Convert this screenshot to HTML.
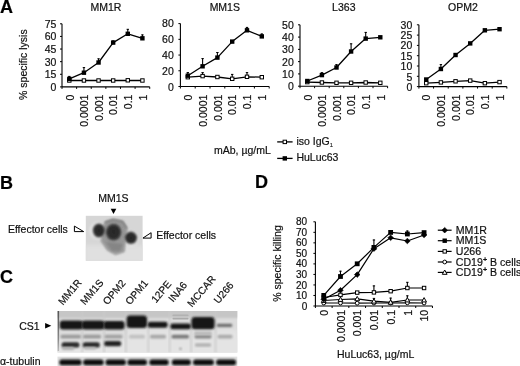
<!DOCTYPE html>
<html><head><meta charset="utf-8"><style>
html,body{margin:0;padding:0;background:#fff;width:520px;height:366px;overflow:hidden}
svg{display:block;font-family:"Liberation Sans",sans-serif;filter:grayscale(1) blur(0.35px)}
</style></head><body>
<svg width="520" height="366" viewBox="0 0 520 366" font-family='"Liberation Sans", sans-serif' fill="#111">
<defs>
<filter id="b1" x="-50%" y="-50%" width="200%" height="200%"><feGaussianBlur stdDeviation="1.2"/></filter>
<filter id="b2" x="-50%" y="-50%" width="200%" height="200%"><feGaussianBlur stdDeviation="0.8"/></filter>
<filter id="b4" x="-50%" y="-50%" width="200%" height="200%"><feGaussianBlur stdDeviation="0.5"/></filter>
<filter id="b5" x="-50%" y="-50%" width="200%" height="200%"><feGaussianBlur stdDeviation="0.9"/></filter>
<filter id="b3" x="-50%" y="-50%" width="200%" height="200%"><feGaussianBlur stdDeviation="2"/></filter>
</defs>
<style>text{stroke:#111;stroke-width:0.2px}</style>
<rect width="520" height="366" fill="#fff"/>
<text x="0" y="12.8" text-anchor="start" font-size="18" font-weight="bold" fill="#000">A</text>
<text x="0" y="188.5" text-anchor="start" font-size="18" font-weight="bold" fill="#000">B</text>
<text x="0" y="283.2" text-anchor="start" font-size="18" font-weight="bold" fill="#000">C</text>
<text x="255" y="188.2" text-anchor="start" font-size="18" font-weight="bold" fill="#000">D</text>
<text transform="translate(27.3,64.6) rotate(-90)" text-anchor="middle" font-size="10.5">% specific lysis</text>
<text x="105.86" y="11.2" text-anchor="middle" font-size="10.5" font-weight="normal" >MM1R</text>
<line x1="62.0" y1="23.8" x2="62.0" y2="86.9" stroke="#000" stroke-width="1.1"/>
<line x1="62.0" y1="86.9" x2="149.72" y2="86.9" stroke="#000" stroke-width="1.1"/>
<line x1="60.0" y1="86.90" x2="62.0" y2="86.90" stroke="#000" stroke-width="1"/>
<text x="56.4" y="91.23" text-anchor="end" font-size="10.5" font-weight="normal" >0</text>
<line x1="60.0" y1="74.28" x2="62.0" y2="74.28" stroke="#000" stroke-width="1"/>
<text x="56.4" y="78.49" text-anchor="end" font-size="10.5" font-weight="normal" >15</text>
<line x1="60.0" y1="61.66" x2="62.0" y2="61.66" stroke="#000" stroke-width="1"/>
<text x="56.4" y="65.75" text-anchor="end" font-size="10.5" font-weight="normal" >30</text>
<line x1="60.0" y1="49.04" x2="62.0" y2="49.04" stroke="#000" stroke-width="1"/>
<text x="56.4" y="53.01" text-anchor="end" font-size="10.5" font-weight="normal" >45</text>
<line x1="60.0" y1="36.42" x2="62.0" y2="36.42" stroke="#000" stroke-width="1"/>
<text x="56.4" y="40.27" text-anchor="end" font-size="10.5" font-weight="normal" >60</text>
<line x1="60.0" y1="23.80" x2="62.0" y2="23.80" stroke="#000" stroke-width="1"/>
<text x="56.4" y="27.53" text-anchor="end" font-size="10.5" font-weight="normal" >75</text>
<line x1="62.00" y1="86.9" x2="62.00" y2="88.9" stroke="#000" stroke-width="1"/>
<line x1="76.62" y1="86.9" x2="76.62" y2="88.9" stroke="#000" stroke-width="1"/>
<line x1="91.24" y1="86.9" x2="91.24" y2="88.9" stroke="#000" stroke-width="1"/>
<line x1="105.86" y1="86.9" x2="105.86" y2="88.9" stroke="#000" stroke-width="1"/>
<line x1="120.48" y1="86.9" x2="120.48" y2="88.9" stroke="#000" stroke-width="1"/>
<line x1="135.10" y1="86.9" x2="135.10" y2="88.9" stroke="#000" stroke-width="1"/>
<line x1="149.72" y1="86.9" x2="149.72" y2="88.9" stroke="#000" stroke-width="1"/>
<text transform="translate(73.51,94.6) rotate(-90)" text-anchor="end" font-size="10.5">0</text>
<text transform="translate(88.13,94.6) rotate(-90)" text-anchor="end" font-size="10.5">0.0001</text>
<text transform="translate(102.75,94.6) rotate(-90)" text-anchor="end" font-size="10.5">0.001</text>
<text transform="translate(117.37,94.6) rotate(-90)" text-anchor="end" font-size="10.5">0.01</text>
<text transform="translate(131.99,94.6) rotate(-90)" text-anchor="end" font-size="10.5">0.1</text>
<text transform="translate(146.61,94.6) rotate(-90)" text-anchor="end" font-size="10.5">1</text>
<polyline points="69.31,80.50 83.93,80.50 98.55,80.50 113.17,80.50 127.79,80.30 142.41,80.50" fill="none" stroke="#000" stroke-width="1.3" stroke-linejoin="round"/>
<polyline points="69.31,78.90 83.93,72.70 98.55,62.50 113.17,42.60 127.79,33.80 142.41,38.30" fill="none" stroke="#000" stroke-width="1.3" stroke-linejoin="round"/>
<line x1="69.31" y1="78.9" x2="69.31" y2="76" stroke="#000" stroke-width="1.1"/>
<line x1="68.11" y1="76.4" x2="70.51" y2="76.4" stroke="#000" stroke-width="1"/>
<line x1="83.93" y1="72.7" x2="83.93" y2="67.2" stroke="#000" stroke-width="1.1"/>
<line x1="82.73" y1="67.60000000000001" x2="85.13000000000001" y2="67.60000000000001" stroke="#000" stroke-width="1"/>
<line x1="98.55" y1="62.5" x2="98.55" y2="58.4" stroke="#000" stroke-width="1.1"/>
<line x1="97.35" y1="58.8" x2="99.75" y2="58.8" stroke="#000" stroke-width="1"/>
<line x1="113.16999999999999" y1="42.6" x2="113.16999999999999" y2="40.6" stroke="#000" stroke-width="1.1"/>
<line x1="111.96999999999998" y1="41.0" x2="114.36999999999999" y2="41.0" stroke="#000" stroke-width="1"/>
<line x1="127.78999999999999" y1="33.8" x2="127.78999999999999" y2="28.9" stroke="#000" stroke-width="1.1"/>
<line x1="126.58999999999999" y1="29.299999999999997" x2="128.98999999999998" y2="29.299999999999997" stroke="#000" stroke-width="1"/>
<line x1="142.41" y1="38.3" x2="142.41" y2="34.5" stroke="#000" stroke-width="1.1"/>
<line x1="141.21" y1="34.9" x2="143.60999999999999" y2="34.9" stroke="#000" stroke-width="1"/>
<rect x="67.61" y="78.80" width="3.4000000000000004" height="3.4000000000000004" fill="#fff" stroke="#000" stroke-width="1"/>
<rect x="82.23" y="78.80" width="3.4000000000000004" height="3.4000000000000004" fill="#fff" stroke="#000" stroke-width="1"/>
<rect x="96.85" y="78.80" width="3.4000000000000004" height="3.4000000000000004" fill="#fff" stroke="#000" stroke-width="1"/>
<rect x="111.47" y="78.80" width="3.4000000000000004" height="3.4000000000000004" fill="#fff" stroke="#000" stroke-width="1"/>
<rect x="126.09" y="78.60" width="3.4000000000000004" height="3.4000000000000004" fill="#fff" stroke="#000" stroke-width="1"/>
<rect x="140.71" y="78.80" width="3.4000000000000004" height="3.4000000000000004" fill="#fff" stroke="#000" stroke-width="1"/>
<rect x="67.11" y="76.70" width="4.4" height="4.4" fill="#000"/>
<rect x="81.73" y="70.50" width="4.4" height="4.4" fill="#000"/>
<rect x="96.35" y="60.30" width="4.4" height="4.4" fill="#000"/>
<rect x="110.97" y="40.40" width="4.4" height="4.4" fill="#000"/>
<rect x="125.59" y="31.60" width="4.4" height="4.4" fill="#000"/>
<rect x="140.21" y="36.10" width="4.4" height="4.4" fill="#000"/>
<text x="224.80" y="11.2" text-anchor="middle" font-size="10.5" font-weight="normal" >MM1S</text>
<line x1="180.4" y1="23.6" x2="180.4" y2="86.5" stroke="#000" stroke-width="1.1"/>
<line x1="180.4" y1="86.5" x2="269.20" y2="86.5" stroke="#000" stroke-width="1.1"/>
<line x1="178.4" y1="86.50" x2="180.4" y2="86.50" stroke="#000" stroke-width="1"/>
<text x="173.8" y="91.33" text-anchor="end" font-size="10.5" font-weight="normal" >0</text>
<line x1="178.4" y1="70.78" x2="180.4" y2="70.78" stroke="#000" stroke-width="1"/>
<text x="173.8" y="75.35" text-anchor="end" font-size="10.5" font-weight="normal" >20</text>
<line x1="178.4" y1="55.05" x2="180.4" y2="55.05" stroke="#000" stroke-width="1"/>
<text x="173.8" y="59.38" text-anchor="end" font-size="10.5" font-weight="normal" >40</text>
<line x1="178.4" y1="39.33" x2="180.4" y2="39.33" stroke="#000" stroke-width="1"/>
<text x="173.8" y="43.40" text-anchor="end" font-size="10.5" font-weight="normal" >60</text>
<line x1="178.4" y1="23.60" x2="180.4" y2="23.60" stroke="#000" stroke-width="1"/>
<text x="173.8" y="27.43" text-anchor="end" font-size="10.5" font-weight="normal" >80</text>
<line x1="180.40" y1="86.5" x2="180.40" y2="88.5" stroke="#000" stroke-width="1"/>
<line x1="195.20" y1="86.5" x2="195.20" y2="88.5" stroke="#000" stroke-width="1"/>
<line x1="210.00" y1="86.5" x2="210.00" y2="88.5" stroke="#000" stroke-width="1"/>
<line x1="224.80" y1="86.5" x2="224.80" y2="88.5" stroke="#000" stroke-width="1"/>
<line x1="239.60" y1="86.5" x2="239.60" y2="88.5" stroke="#000" stroke-width="1"/>
<line x1="254.40" y1="86.5" x2="254.40" y2="88.5" stroke="#000" stroke-width="1"/>
<line x1="269.20" y1="86.5" x2="269.20" y2="88.5" stroke="#000" stroke-width="1"/>
<text transform="translate(192.00,94.6) rotate(-90)" text-anchor="end" font-size="10.5">0</text>
<text transform="translate(206.80,94.6) rotate(-90)" text-anchor="end" font-size="10.5">0.0001</text>
<text transform="translate(221.60,94.6) rotate(-90)" text-anchor="end" font-size="10.5">0.001</text>
<text transform="translate(236.40,94.6) rotate(-90)" text-anchor="end" font-size="10.5">0.01</text>
<text transform="translate(251.20,94.6) rotate(-90)" text-anchor="end" font-size="10.5">0.1</text>
<text transform="translate(266.00,94.6) rotate(-90)" text-anchor="end" font-size="10.5">1</text>
<polyline points="187.80,77.20 202.60,76.10 217.40,77.00 232.20,78.80 247.00,76.80 261.80,77.20" fill="none" stroke="#000" stroke-width="1.3" stroke-linejoin="round"/>
<polyline points="187.80,75.70 202.60,66.30 217.40,57.60 232.20,41.60 247.00,30.30 261.80,36.40" fill="none" stroke="#000" stroke-width="1.3" stroke-linejoin="round"/>
<line x1="202.60000000000002" y1="76.1" x2="202.60000000000002" y2="72.2" stroke="#000" stroke-width="1.1"/>
<line x1="201.40000000000003" y1="72.60000000000001" x2="203.8" y2="72.60000000000001" stroke="#000" stroke-width="1"/>
<line x1="232.20000000000002" y1="78.8" x2="232.20000000000002" y2="74" stroke="#000" stroke-width="1.1"/>
<line x1="231.00000000000003" y1="74.4" x2="233.4" y2="74.4" stroke="#000" stroke-width="1"/>
<line x1="247.0" y1="76.8" x2="247.0" y2="72.2" stroke="#000" stroke-width="1.1"/>
<line x1="245.8" y1="72.60000000000001" x2="248.2" y2="72.60000000000001" stroke="#000" stroke-width="1"/>
<line x1="187.8" y1="75.7" x2="187.8" y2="72.2" stroke="#000" stroke-width="1.1"/>
<line x1="186.60000000000002" y1="72.60000000000001" x2="189.0" y2="72.60000000000001" stroke="#000" stroke-width="1"/>
<line x1="202.60000000000002" y1="66.3" x2="202.60000000000002" y2="58.2" stroke="#000" stroke-width="1.1"/>
<line x1="201.40000000000003" y1="58.6" x2="203.8" y2="58.6" stroke="#000" stroke-width="1"/>
<line x1="217.4" y1="57.6" x2="217.4" y2="52.1" stroke="#000" stroke-width="1.1"/>
<line x1="216.20000000000002" y1="52.5" x2="218.6" y2="52.5" stroke="#000" stroke-width="1"/>
<line x1="232.20000000000002" y1="41.6" x2="232.20000000000002" y2="40.1" stroke="#000" stroke-width="1.1"/>
<line x1="231.00000000000003" y1="40.5" x2="233.4" y2="40.5" stroke="#000" stroke-width="1"/>
<line x1="247.0" y1="30.3" x2="247.0" y2="27" stroke="#000" stroke-width="1.1"/>
<line x1="245.8" y1="27.4" x2="248.2" y2="27.4" stroke="#000" stroke-width="1"/>
<line x1="261.8" y1="36.4" x2="261.8" y2="33.6" stroke="#000" stroke-width="1.1"/>
<line x1="260.6" y1="34.0" x2="263.0" y2="34.0" stroke="#000" stroke-width="1"/>
<rect x="186.10" y="75.50" width="3.4000000000000004" height="3.4000000000000004" fill="#fff" stroke="#000" stroke-width="1"/>
<rect x="200.90" y="74.40" width="3.4000000000000004" height="3.4000000000000004" fill="#fff" stroke="#000" stroke-width="1"/>
<rect x="215.70" y="75.30" width="3.4000000000000004" height="3.4000000000000004" fill="#fff" stroke="#000" stroke-width="1"/>
<rect x="230.50" y="77.10" width="3.4000000000000004" height="3.4000000000000004" fill="#fff" stroke="#000" stroke-width="1"/>
<rect x="245.30" y="75.10" width="3.4000000000000004" height="3.4000000000000004" fill="#fff" stroke="#000" stroke-width="1"/>
<rect x="260.10" y="75.50" width="3.4000000000000004" height="3.4000000000000004" fill="#fff" stroke="#000" stroke-width="1"/>
<rect x="185.60" y="73.50" width="4.4" height="4.4" fill="#000"/>
<rect x="200.40" y="64.10" width="4.4" height="4.4" fill="#000"/>
<rect x="215.20" y="55.40" width="4.4" height="4.4" fill="#000"/>
<rect x="230.00" y="39.40" width="4.4" height="4.4" fill="#000"/>
<rect x="244.80" y="28.10" width="4.4" height="4.4" fill="#000"/>
<rect x="259.60" y="34.20" width="4.4" height="4.4" fill="#000"/>
<text x="343.80" y="11.2" text-anchor="middle" font-size="10.5" font-weight="normal" >L363</text>
<line x1="300.0" y1="24.8" x2="300.0" y2="86.2" stroke="#000" stroke-width="1.1"/>
<line x1="300.0" y1="86.2" x2="387.60" y2="86.2" stroke="#000" stroke-width="1.1"/>
<line x1="298.0" y1="86.20" x2="300.0" y2="86.20" stroke="#000" stroke-width="1"/>
<text x="293.8" y="90.33" text-anchor="end" font-size="10.5" font-weight="normal" >0</text>
<line x1="298.0" y1="73.92" x2="300.0" y2="73.92" stroke="#000" stroke-width="1"/>
<text x="293.8" y="77.97" text-anchor="end" font-size="10.5" font-weight="normal" >10</text>
<line x1="298.0" y1="61.64" x2="300.0" y2="61.64" stroke="#000" stroke-width="1"/>
<text x="293.8" y="65.61" text-anchor="end" font-size="10.5" font-weight="normal" >20</text>
<line x1="298.0" y1="49.36" x2="300.0" y2="49.36" stroke="#000" stroke-width="1"/>
<text x="293.8" y="53.25" text-anchor="end" font-size="10.5" font-weight="normal" >30</text>
<line x1="298.0" y1="37.08" x2="300.0" y2="37.08" stroke="#000" stroke-width="1"/>
<text x="293.8" y="40.89" text-anchor="end" font-size="10.5" font-weight="normal" >40</text>
<line x1="298.0" y1="24.80" x2="300.0" y2="24.80" stroke="#000" stroke-width="1"/>
<text x="293.8" y="28.53" text-anchor="end" font-size="10.5" font-weight="normal" >50</text>
<line x1="300.00" y1="86.2" x2="300.00" y2="88.2" stroke="#000" stroke-width="1"/>
<line x1="314.60" y1="86.2" x2="314.60" y2="88.2" stroke="#000" stroke-width="1"/>
<line x1="329.20" y1="86.2" x2="329.20" y2="88.2" stroke="#000" stroke-width="1"/>
<line x1="343.80" y1="86.2" x2="343.80" y2="88.2" stroke="#000" stroke-width="1"/>
<line x1="358.40" y1="86.2" x2="358.40" y2="88.2" stroke="#000" stroke-width="1"/>
<line x1="373.00" y1="86.2" x2="373.00" y2="88.2" stroke="#000" stroke-width="1"/>
<line x1="387.60" y1="86.2" x2="387.60" y2="88.2" stroke="#000" stroke-width="1"/>
<text transform="translate(311.50,94.6) rotate(-90)" text-anchor="end" font-size="10.5">0</text>
<text transform="translate(326.10,94.6) rotate(-90)" text-anchor="end" font-size="10.5">0.0001</text>
<text transform="translate(340.70,94.6) rotate(-90)" text-anchor="end" font-size="10.5">0.001</text>
<text transform="translate(355.30,94.6) rotate(-90)" text-anchor="end" font-size="10.5">0.01</text>
<text transform="translate(369.90,94.6) rotate(-90)" text-anchor="end" font-size="10.5">0.1</text>
<text transform="translate(384.50,94.6) rotate(-90)" text-anchor="end" font-size="10.5">1</text>
<polyline points="307.30,82.10 321.90,82.50 336.50,82.80 351.10,82.80 365.70,82.50 380.30,82.80" fill="none" stroke="#000" stroke-width="1.3" stroke-linejoin="round"/>
<polyline points="307.30,81.00 321.90,75.10 336.50,67.50 351.10,51.50 365.70,38.60 380.30,37.30" fill="none" stroke="#000" stroke-width="1.3" stroke-linejoin="round"/>
<line x1="321.9" y1="75.1" x2="321.9" y2="72.3" stroke="#000" stroke-width="1.1"/>
<line x1="320.7" y1="72.7" x2="323.09999999999997" y2="72.7" stroke="#000" stroke-width="1"/>
<line x1="336.5" y1="67.5" x2="336.5" y2="64.2" stroke="#000" stroke-width="1.1"/>
<line x1="335.3" y1="64.60000000000001" x2="337.7" y2="64.60000000000001" stroke="#000" stroke-width="1"/>
<line x1="351.1" y1="51.5" x2="351.1" y2="43.4" stroke="#000" stroke-width="1.1"/>
<line x1="349.90000000000003" y1="43.8" x2="352.3" y2="43.8" stroke="#000" stroke-width="1"/>
<line x1="365.7" y1="38.6" x2="365.7" y2="32" stroke="#000" stroke-width="1.1"/>
<line x1="364.5" y1="32.4" x2="366.9" y2="32.4" stroke="#000" stroke-width="1"/>
<rect x="305.60" y="80.40" width="3.4000000000000004" height="3.4000000000000004" fill="#fff" stroke="#000" stroke-width="1"/>
<rect x="320.20" y="80.80" width="3.4000000000000004" height="3.4000000000000004" fill="#fff" stroke="#000" stroke-width="1"/>
<rect x="334.80" y="81.10" width="3.4000000000000004" height="3.4000000000000004" fill="#fff" stroke="#000" stroke-width="1"/>
<rect x="349.40" y="81.10" width="3.4000000000000004" height="3.4000000000000004" fill="#fff" stroke="#000" stroke-width="1"/>
<rect x="364.00" y="80.80" width="3.4000000000000004" height="3.4000000000000004" fill="#fff" stroke="#000" stroke-width="1"/>
<rect x="378.60" y="81.10" width="3.4000000000000004" height="3.4000000000000004" fill="#fff" stroke="#000" stroke-width="1"/>
<rect x="305.10" y="78.80" width="4.4" height="4.4" fill="#000"/>
<rect x="319.70" y="72.90" width="4.4" height="4.4" fill="#000"/>
<rect x="334.30" y="65.30" width="4.4" height="4.4" fill="#000"/>
<rect x="348.90" y="49.30" width="4.4" height="4.4" fill="#000"/>
<rect x="363.50" y="36.40" width="4.4" height="4.4" fill="#000"/>
<rect x="378.10" y="35.10" width="4.4" height="4.4" fill="#000"/>
<text x="462.88" y="11.2" text-anchor="middle" font-size="10.5" font-weight="normal" >OPM2</text>
<line x1="418.9" y1="24.8" x2="418.9" y2="86.6" stroke="#000" stroke-width="1.1"/>
<line x1="418.9" y1="86.6" x2="506.86" y2="86.6" stroke="#000" stroke-width="1.1"/>
<line x1="416.9" y1="86.60" x2="418.9" y2="86.60" stroke="#000" stroke-width="1"/>
<text x="412.3" y="90.93" text-anchor="end" font-size="10.5" font-weight="normal" >0</text>
<line x1="416.9" y1="76.30" x2="418.9" y2="76.30" stroke="#000" stroke-width="1"/>
<text x="412.3" y="80.54" text-anchor="end" font-size="10.5" font-weight="normal" >5</text>
<line x1="416.9" y1="66.00" x2="418.9" y2="66.00" stroke="#000" stroke-width="1"/>
<text x="412.3" y="70.16" text-anchor="end" font-size="10.5" font-weight="normal" >10</text>
<line x1="416.9" y1="55.70" x2="418.9" y2="55.70" stroke="#000" stroke-width="1"/>
<text x="412.3" y="59.78" text-anchor="end" font-size="10.5" font-weight="normal" >15</text>
<line x1="416.9" y1="45.40" x2="418.9" y2="45.40" stroke="#000" stroke-width="1"/>
<text x="412.3" y="49.39" text-anchor="end" font-size="10.5" font-weight="normal" >20</text>
<line x1="416.9" y1="35.10" x2="418.9" y2="35.10" stroke="#000" stroke-width="1"/>
<text x="412.3" y="39.01" text-anchor="end" font-size="10.5" font-weight="normal" >25</text>
<line x1="416.9" y1="24.80" x2="418.9" y2="24.80" stroke="#000" stroke-width="1"/>
<text x="412.3" y="28.63" text-anchor="end" font-size="10.5" font-weight="normal" >30</text>
<line x1="418.90" y1="86.6" x2="418.90" y2="88.6" stroke="#000" stroke-width="1"/>
<line x1="433.56" y1="86.6" x2="433.56" y2="88.6" stroke="#000" stroke-width="1"/>
<line x1="448.22" y1="86.6" x2="448.22" y2="88.6" stroke="#000" stroke-width="1"/>
<line x1="462.88" y1="86.6" x2="462.88" y2="88.6" stroke="#000" stroke-width="1"/>
<line x1="477.54" y1="86.6" x2="477.54" y2="88.6" stroke="#000" stroke-width="1"/>
<line x1="492.20" y1="86.6" x2="492.20" y2="88.6" stroke="#000" stroke-width="1"/>
<line x1="506.86" y1="86.6" x2="506.86" y2="88.6" stroke="#000" stroke-width="1"/>
<text transform="translate(430.43,94.6) rotate(-90)" text-anchor="end" font-size="10.5">0</text>
<text transform="translate(445.09,94.6) rotate(-90)" text-anchor="end" font-size="10.5">0.0001</text>
<text transform="translate(459.75,94.6) rotate(-90)" text-anchor="end" font-size="10.5">0.001</text>
<text transform="translate(474.41,94.6) rotate(-90)" text-anchor="end" font-size="10.5">0.01</text>
<text transform="translate(489.07,94.6) rotate(-90)" text-anchor="end" font-size="10.5">0.1</text>
<text transform="translate(503.73,94.6) rotate(-90)" text-anchor="end" font-size="10.5">1</text>
<polyline points="426.23,83.20 440.89,82.40 455.55,81.30 470.21,80.60 484.87,83.20 499.53,82.10" fill="none" stroke="#000" stroke-width="1.3" stroke-linejoin="round"/>
<polyline points="426.23,79.50 440.89,69.00 455.55,55.00 470.21,43.40 484.87,30.30 499.53,29.20" fill="none" stroke="#000" stroke-width="1.3" stroke-linejoin="round"/>
<line x1="440.89" y1="69" x2="440.89" y2="64.2" stroke="#000" stroke-width="1.1"/>
<line x1="439.69" y1="64.60000000000001" x2="442.09" y2="64.60000000000001" stroke="#000" stroke-width="1"/>
<rect x="424.53" y="81.50" width="3.4000000000000004" height="3.4000000000000004" fill="#fff" stroke="#000" stroke-width="1"/>
<rect x="439.19" y="80.70" width="3.4000000000000004" height="3.4000000000000004" fill="#fff" stroke="#000" stroke-width="1"/>
<rect x="453.85" y="79.60" width="3.4000000000000004" height="3.4000000000000004" fill="#fff" stroke="#000" stroke-width="1"/>
<rect x="468.51" y="78.90" width="3.4000000000000004" height="3.4000000000000004" fill="#fff" stroke="#000" stroke-width="1"/>
<rect x="483.17" y="81.50" width="3.4000000000000004" height="3.4000000000000004" fill="#fff" stroke="#000" stroke-width="1"/>
<rect x="497.83" y="80.40" width="3.4000000000000004" height="3.4000000000000004" fill="#fff" stroke="#000" stroke-width="1"/>
<rect x="424.03" y="77.30" width="4.4" height="4.4" fill="#000"/>
<rect x="438.69" y="66.80" width="4.4" height="4.4" fill="#000"/>
<rect x="453.35" y="52.80" width="4.4" height="4.4" fill="#000"/>
<rect x="468.01" y="41.20" width="4.4" height="4.4" fill="#000"/>
<rect x="482.67" y="28.10" width="4.4" height="4.4" fill="#000"/>
<rect x="497.33" y="27.00" width="4.4" height="4.4" fill="#000"/>
<text x="214.0" y="153.8" text-anchor="start" font-size="10.5" font-weight="normal" >mAb, &#181;g/mL</text>
<line x1="277.2" y1="141.9" x2="292.6" y2="141.9" stroke="#000" stroke-width="1.3"/>
<rect x="283.10" y="140.20" width="3.4000000000000004" height="3.4000000000000004" fill="#fff" stroke="#000" stroke-width="1"/>
<text x="296.4" y="144.6" text-anchor="start" font-size="10.5" font-weight="normal" >iso IgG<tspan font-size="5.8" dy="2.8" stroke-width="0.1">1</tspan></text>
<line x1="277.2" y1="158.4" x2="292.6" y2="158.4" stroke="#000" stroke-width="1.3"/>
<rect x="282.60" y="156.20" width="4.4" height="4.4" fill="#000"/>
<text x="296.4" y="160.9" text-anchor="start" font-size="10.5" font-weight="normal" >HuLuc63</text>
<text x="113.4" y="201.8" text-anchor="middle" font-size="10.5" font-weight="normal" >MM1S</text>
<polygon points="110.7,208.8 116.3,208.8 113.5,214" fill="#000"/>
<text x="7.9" y="232.9" text-anchor="start" font-size="10.5" font-weight="normal" >Effector cells</text>
<polygon points="74.4,226.1 74.4,231.6 83.7,231.6" fill="none" stroke="#000" stroke-width="1"/>
<polygon points="142.9,238.1 151.1,232.7 151.1,238.1" fill="none" stroke="#000" stroke-width="1"/>
<text x="156.2" y="239.3" text-anchor="start" font-size="10.5" font-weight="normal" >Effector cells</text>
<g>
<rect x="85.8" y="215.8" width="56.8" height="45" fill="#d6d6d6"/>
<clipPath id="pc"><rect x="85.8" y="215.8" width="56.8" height="45"/></clipPath>
<g clip-path="url(#pc)">
<rect x="84" y="245" width="60" height="18" fill="#e0e0e0" filter="url(#b3)"/>
<ellipse cx="97.8" cy="230.6" rx="8.6" ry="8.8" fill="#e4e4e4" filter="url(#b1)"/>
<ellipse cx="131" cy="238.8" rx="8" ry="8.4" fill="#e2e2e2" filter="url(#b1)"/>
<path d="M105,222.3 L113,219.6 L122.5,221.6 L126.8,228.4 L125,239 L124,251.5 L115.5,254.3 L107.5,250 L101.5,241 L103.5,232 Z" fill="#979797" filter="url(#b2)"/>
<path d="M106,242 L112,251 L120,251 L123,244 Z" fill="#858585" filter="url(#b1)"/>
<path d="M105,222.3 L113,219.6 L122.5,221.6 L126.8,228.4 L125,239 L124,251.5 L115.5,254.3 L107.5,250 L101.5,241 L103.5,232 Z" fill="none" stroke="#858585" stroke-width="1" filter="url(#b2)"/>
<path d="M105,222.3 L113,219.6 L122.5,221.6 L126.8,228.4" fill="none" stroke="#707070" stroke-width="1.4" filter="url(#b2)"/>
<radialGradient id="ng"><stop offset="0" stop-color="#262626"/><stop offset="0.75" stop-color="#2e2e2e"/><stop offset="1" stop-color="#4a4a4a"/></radialGradient>
<ellipse cx="98.9" cy="230.5" rx="6.1" ry="6.9" fill="url(#ng)" filter="url(#b5)"/>
<ellipse cx="113.6" cy="232.2" rx="7.8" ry="8.4" fill="url(#ng)" filter="url(#b5)"/>
<ellipse cx="130.9" cy="237.8" rx="6.2" ry="6.2" fill="url(#ng)" filter="url(#b5)"/>
</g></g>
<text transform="translate(62.9,305.8) rotate(-50)" text-anchor="start" font-size="10.2">MM1R</text>
<text transform="translate(85.1,305.5) rotate(-50)" text-anchor="start" font-size="10.2">MM1S</text>
<text transform="translate(107.6,305.5) rotate(-50)" text-anchor="start" font-size="10.2">OPM2</text>
<text transform="translate(130.1,305.5) rotate(-50)" text-anchor="start" font-size="10.2">OPM1</text>
<text transform="translate(155.9,303.5) rotate(-50)" text-anchor="start" font-size="10.2">12PE</text>
<text transform="translate(173.1,302.8) rotate(-50)" text-anchor="start" font-size="10.2">INA6</text>
<text transform="translate(192.1,307.8) rotate(-50)" text-anchor="start" font-size="10.2">MCCAR</text>
<text transform="translate(218.6,304.3) rotate(-50)" text-anchor="start" font-size="10.2">U266</text>
<text x="19.2" y="329.7" text-anchor="start" font-size="10.5" font-weight="normal" >CS1</text>
<polygon points="45.1,323 45.1,328.6 51.3,325.8" fill="#000"/>
<text x="0" y="364.8" text-anchor="start" font-size="10.5" font-weight="normal" >&#945;-tubulin</text>
<rect x="57.5" y="311" width="179.8" height="41.5" fill="#dcdcdc"/>
<clipPath id="bc"><rect x="57.5" y="311" width="179.8" height="41.5"/></clipPath>
<g clip-path="url(#bc)">
<rect x="55" y="309" width="185" height="9" fill="#c6c6c6" filter="url(#b1)"/>
<rect x="55" y="339" width="185" height="16" fill="#e6e6e6" filter="url(#b3)"/>
<rect x="126" y="330" width="112" height="25" fill="#e4e4e4" filter="url(#b3)"/>
<linearGradient id="lg" x1="0" y1="0" x2="0" y2="1"><stop offset="0" stop-color="#555"/><stop offset="0.7" stop-color="#888"/><stop offset="1" stop-color="#bbb"/></linearGradient>
<rect x="57.3" y="311" width="1.8" height="40" fill="url(#lg)" filter="url(#b4)"/>
<rect x="81.5" y="311" width="1.6" height="42" fill="#cacaca" filter="url(#b2)"/>
<rect x="103.4" y="311" width="1.6" height="42" fill="#cacaca" filter="url(#b2)"/>
<rect x="125.0" y="311" width="1.6" height="42" fill="#cacaca" filter="url(#b2)"/>
<rect x="147.6" y="311" width="1.6" height="42" fill="#cacaca" filter="url(#b2)"/>
<rect x="168.79999999999998" y="311" width="1.6" height="42" fill="#cacaca" filter="url(#b2)"/>
<rect x="190.39999999999998" y="311" width="1.6" height="42" fill="#cacaca" filter="url(#b2)"/>
<rect x="214.7" y="311" width="1.6" height="42" fill="#cacaca" filter="url(#b2)"/>
<rect x="59.8" y="320.4" width="23.00" height="9.00" rx="3" fill="#121212" filter="url(#b2)"/>
<rect x="81.8" y="320.4" width="22.60" height="9.00" rx="3" fill="#121212" filter="url(#b2)"/>
<rect x="103.6" y="321" width="21.00" height="8.40" rx="3" fill="#121212" filter="url(#b2)"/>
<rect x="126.6" y="315.4" width="20.40" height="12.60" rx="3.5" fill="#141414" filter="url(#b2)"/>
<rect x="147.8" y="321.8" width="19.80" height="6.00" rx="2.4" fill="#181818" filter="url(#b2)"/>
<rect x="170.4" y="323.6" width="20.40" height="5.60" rx="2.2" fill="#181818" filter="url(#b2)"/>
<rect x="172.5" y="314.6" width="16.00" height="1.60" rx="0.6" fill="#b2b2b2" filter="url(#b4)"/>
<rect x="172.5" y="317.8" width="16.00" height="1.60" rx="0.6" fill="#aaaaaa" filter="url(#b4)"/>
<rect x="191.4" y="316.9" width="23.20" height="12.30" rx="3.5" fill="#141414" filter="url(#b2)"/>
<rect x="216.8" y="323.8" width="15.40" height="3.20" rx="1.2" fill="#6e6e6e" filter="url(#b2)"/>
<rect x="60.5" y="334.8" width="20.50" height="3.80" rx="1.5" fill="#9a9a9a" filter="url(#b2)"/>
<rect x="83" y="334.8" width="18.00" height="3.80" rx="1.5" fill="#9a9a9a" filter="url(#b2)"/>
<rect x="104.5" y="334.8" width="18.00" height="3.80" rx="1.5" fill="#a0a0a0" filter="url(#b2)"/>
<rect x="129" y="334.8" width="16.00" height="3.80" rx="1.5" fill="#c0c0c0" filter="url(#b2)"/>
<rect x="150" y="334.8" width="16.00" height="3.80" rx="1.5" fill="#a6a6a6" filter="url(#b2)"/>
<rect x="171.5" y="334.8" width="17.50" height="3.80" rx="1.5" fill="#787878" filter="url(#b2)"/>
<rect x="194.5" y="334.8" width="17.00" height="3.80" rx="1.5" fill="#888888" filter="url(#b2)"/>
<rect x="217.5" y="334.8" width="15.00" height="3.80" rx="1.5" fill="#aaaaaa" filter="url(#b2)"/>
<rect x="61.6" y="342.2" width="17.80" height="5.40" rx="2.2" fill="#2a2a2a" filter="url(#b2)"/>
<rect x="82.8" y="342.2" width="17.00" height="5.40" rx="2.2" fill="#2a2a2a" filter="url(#b2)"/>
<rect x="104.2" y="340.9" width="17.00" height="5.40" rx="2.2" fill="#242424" filter="url(#b2)"/>
<rect x="62" y="347" width="12.00" height="3.00" rx="1.2" fill="#b0b0b0" filter="url(#b2)"/>
<rect x="84" y="347" width="12.00" height="2.50" rx="1.2" fill="#bcbcbc" filter="url(#b2)"/>
<rect x="195" y="343.6" width="16.00" height="2.80" rx="1" fill="#acacac" filter="url(#b2)"/>
<rect x="194" y="331.5" width="18.00" height="3.50" rx="1.5" fill="#b8b8b8" filter="url(#b1)"/>
<circle cx="180.5" cy="348.7" r="1" fill="#777" filter="url(#b2)"/>
</g>
<rect x="57.5" y="356.6" width="179.8" height="9.4" fill="#e0e0e0"/>
<rect x="59.400000000000006" y="359.6" width="22.10" height="5.60" rx="2.5" fill="#080808" filter="url(#b2)"/>
<rect x="83.2" y="359.6" width="20.40" height="5.60" rx="2.5" fill="#080808" filter="url(#b2)"/>
<rect x="105.60000000000001" y="359.6" width="20.20" height="5.60" rx="2.5" fill="#080808" filter="url(#b2)"/>
<rect x="127.5" y="359.6" width="19.40" height="5.60" rx="2.5" fill="#080808" filter="url(#b2)"/>
<rect x="149.39999999999998" y="359.6" width="19.20" height="5.60" rx="2.5" fill="#080808" filter="url(#b2)"/>
<rect x="171.89999999999998" y="359.6" width="18.90" height="5.60" rx="2.5" fill="#080808" filter="url(#b2)"/>
<rect x="193.1" y="359.6" width="20.70" height="5.60" rx="2.5" fill="#080808" filter="url(#b2)"/>
<rect x="216.2" y="359.6" width="19.80" height="5.60" rx="2.5" fill="#080808" filter="url(#b2)"/>
<line x1="315.4" y1="221.8" x2="315.4" y2="306.0" stroke="#000" stroke-width="1.1"/>
<line x1="315.4" y1="306.0" x2="432.44" y2="306.0" stroke="#000" stroke-width="1.1"/>
<line x1="313.4" y1="306.00" x2="315.4" y2="306.00" stroke="#000" stroke-width="1"/>
<text x="307.2" y="309.55" text-anchor="end" font-size="10.0" font-weight="normal" >0</text>
<line x1="313.4" y1="295.48" x2="315.4" y2="295.48" stroke="#000" stroke-width="1"/>
<text x="307.2" y="299.03" text-anchor="end" font-size="10.0" font-weight="normal" >10</text>
<line x1="313.4" y1="284.95" x2="315.4" y2="284.95" stroke="#000" stroke-width="1"/>
<text x="307.2" y="288.50" text-anchor="end" font-size="10.0" font-weight="normal" >20</text>
<line x1="313.4" y1="274.43" x2="315.4" y2="274.43" stroke="#000" stroke-width="1"/>
<text x="307.2" y="277.98" text-anchor="end" font-size="10.0" font-weight="normal" >30</text>
<line x1="313.4" y1="263.90" x2="315.4" y2="263.90" stroke="#000" stroke-width="1"/>
<text x="307.2" y="267.45" text-anchor="end" font-size="10.0" font-weight="normal" >40</text>
<line x1="313.4" y1="253.38" x2="315.4" y2="253.38" stroke="#000" stroke-width="1"/>
<text x="307.2" y="256.93" text-anchor="end" font-size="10.0" font-weight="normal" >50</text>
<line x1="313.4" y1="242.85" x2="315.4" y2="242.85" stroke="#000" stroke-width="1"/>
<text x="307.2" y="246.40" text-anchor="end" font-size="10.0" font-weight="normal" >60</text>
<line x1="313.4" y1="232.33" x2="315.4" y2="232.33" stroke="#000" stroke-width="1"/>
<text x="307.2" y="235.88" text-anchor="end" font-size="10.0" font-weight="normal" >70</text>
<line x1="313.4" y1="221.80" x2="315.4" y2="221.80" stroke="#000" stroke-width="1"/>
<text x="307.2" y="225.35" text-anchor="end" font-size="10.0" font-weight="normal" >80</text>
<line x1="315.40" y1="306.0" x2="315.40" y2="308.0" stroke="#000" stroke-width="1"/>
<line x1="332.12" y1="306.0" x2="332.12" y2="308.0" stroke="#000" stroke-width="1"/>
<line x1="348.84" y1="306.0" x2="348.84" y2="308.0" stroke="#000" stroke-width="1"/>
<line x1="365.56" y1="306.0" x2="365.56" y2="308.0" stroke="#000" stroke-width="1"/>
<line x1="382.28" y1="306.0" x2="382.28" y2="308.0" stroke="#000" stroke-width="1"/>
<line x1="399.00" y1="306.0" x2="399.00" y2="308.0" stroke="#000" stroke-width="1"/>
<line x1="415.72" y1="306.0" x2="415.72" y2="308.0" stroke="#000" stroke-width="1"/>
<line x1="432.44" y1="306.0" x2="432.44" y2="308.0" stroke="#000" stroke-width="1"/>
<text transform="translate(327.96,309.9) rotate(-90)" text-anchor="end" font-size="10.5">0</text>
<text transform="translate(344.68,309.9) rotate(-90)" text-anchor="end" font-size="10.5">0.0001</text>
<text transform="translate(361.40,309.9) rotate(-90)" text-anchor="end" font-size="10.5">0.001</text>
<text transform="translate(378.12,309.9) rotate(-90)" text-anchor="end" font-size="10.5">0.01</text>
<text transform="translate(394.84,309.9) rotate(-90)" text-anchor="end" font-size="10.5">0.1</text>
<text transform="translate(411.56,309.9) rotate(-90)" text-anchor="end" font-size="10.5">1</text>
<text transform="translate(428.28,309.9) rotate(-90)" text-anchor="end" font-size="10.5">10</text>
<text transform="translate(281.2,263.5) rotate(-90)" text-anchor="middle" font-size="10.5">% specific killing</text>
<text x="337.0" y="357.8" text-anchor="start" font-size="10.5" font-weight="normal" >HuLuc63, &#181;g/mL</text>
<polyline points="323.76,303.00 340.48,303.00 357.20,303.20 373.92,303.00 390.64,303.00 407.36,302.80 424.08,303.00" fill="none" stroke="#000" stroke-width="1.2" stroke-linejoin="round"/>
<polyline points="323.76,300.50 340.48,299.50 357.20,298.80 373.92,301.20 390.64,302.30 407.36,300.00 424.08,300.00" fill="none" stroke="#000" stroke-width="1.2" stroke-linejoin="round"/>
<polyline points="323.76,297.50 340.48,294.90 357.20,292.60 373.92,292.40 390.64,291.20 407.36,288.00 424.08,288.00" fill="none" stroke="#000" stroke-width="1.2" stroke-linejoin="round"/>
<polyline points="323.76,299.30 340.48,290.20 357.20,274.60 373.92,248.70 390.64,237.80 407.36,241.00 424.08,235.00" fill="none" stroke="#000" stroke-width="1.2" stroke-linejoin="round"/>
<polyline points="323.76,295.40 340.48,276.50 357.20,263.80 373.92,247.40 390.64,232.40 407.36,234.00 424.08,232.60" fill="none" stroke="#000" stroke-width="1.2" stroke-linejoin="round"/>
<line x1="340.47999999999996" y1="276.5" x2="340.47999999999996" y2="270.8" stroke="#000" stroke-width="1.1"/>
<line x1="339.28" y1="271.2" x2="341.67999999999995" y2="271.2" stroke="#000" stroke-width="1"/>
<line x1="373.91999999999996" y1="247.4" x2="373.91999999999996" y2="239.6" stroke="#000" stroke-width="1.1"/>
<line x1="372.71999999999997" y1="240.0" x2="375.11999999999995" y2="240.0" stroke="#000" stroke-width="1"/>
<line x1="407.35999999999996" y1="234" x2="407.35999999999996" y2="230.6" stroke="#000" stroke-width="1.1"/>
<line x1="406.15999999999997" y1="231.0" x2="408.55999999999995" y2="231.0" stroke="#000" stroke-width="1"/>
<line x1="373.91999999999996" y1="292.4" x2="373.91999999999996" y2="285.5" stroke="#000" stroke-width="1.1"/>
<line x1="372.71999999999997" y1="285.9" x2="375.11999999999995" y2="285.9" stroke="#000" stroke-width="1"/>
<line x1="407.35999999999996" y1="288" x2="407.35999999999996" y2="281.9" stroke="#000" stroke-width="1.1"/>
<line x1="406.15999999999997" y1="282.29999999999995" x2="408.55999999999995" y2="282.29999999999995" stroke="#000" stroke-width="1"/>
<line x1="373.91999999999996" y1="301.2" x2="373.91999999999996" y2="298" stroke="#000" stroke-width="1.1"/>
<line x1="372.71999999999997" y1="298.4" x2="375.11999999999995" y2="298.4" stroke="#000" stroke-width="1"/>
<line x1="390.64" y1="302.3" x2="390.64" y2="297.7" stroke="#000" stroke-width="1.1"/>
<line x1="389.44" y1="298.09999999999997" x2="391.84" y2="298.09999999999997" stroke="#000" stroke-width="1"/>
<line x1="407.35999999999996" y1="300" x2="407.35999999999996" y2="295.4" stroke="#000" stroke-width="1.1"/>
<line x1="406.15999999999997" y1="295.79999999999995" x2="408.55999999999995" y2="295.79999999999995" stroke="#000" stroke-width="1"/>
<circle cx="323.76" cy="303" r="1.9" fill="#fff" stroke="#000" stroke-width="1"/>
<circle cx="340.47999999999996" cy="303" r="1.9" fill="#fff" stroke="#000" stroke-width="1"/>
<circle cx="357.2" cy="303.2" r="1.9" fill="#fff" stroke="#000" stroke-width="1"/>
<circle cx="373.91999999999996" cy="303" r="1.9" fill="#fff" stroke="#000" stroke-width="1"/>
<circle cx="390.64" cy="303" r="1.9" fill="#fff" stroke="#000" stroke-width="1"/>
<circle cx="407.35999999999996" cy="302.8" r="1.9" fill="#fff" stroke="#000" stroke-width="1"/>
<circle cx="424.08" cy="303" r="1.9" fill="#fff" stroke="#000" stroke-width="1"/>
<polygon points="323.76,298.1 326.15999999999997,302.42 321.36,302.42" fill="#fff" stroke="#000" stroke-width="1"/>
<polygon points="340.47999999999996,297.1 342.87999999999994,301.42 338.08,301.42" fill="#fff" stroke="#000" stroke-width="1"/>
<polygon points="357.2,296.40000000000003 359.59999999999997,300.72 354.8,300.72" fill="#fff" stroke="#000" stroke-width="1"/>
<polygon points="373.91999999999996,298.8 376.31999999999994,303.12 371.52,303.12" fill="#fff" stroke="#000" stroke-width="1"/>
<polygon points="390.64,299.90000000000003 393.03999999999996,304.22 388.24,304.22" fill="#fff" stroke="#000" stroke-width="1"/>
<polygon points="407.35999999999996,297.6 409.75999999999993,301.92 404.96,301.92" fill="#fff" stroke="#000" stroke-width="1"/>
<polygon points="424.08,297.6 426.47999999999996,301.92 421.68,301.92" fill="#fff" stroke="#000" stroke-width="1"/>
<rect x="322.06" y="295.80" width="3.4000000000000004" height="3.4000000000000004" fill="#fff" stroke="#000" stroke-width="1"/>
<rect x="338.78" y="293.20" width="3.4000000000000004" height="3.4000000000000004" fill="#fff" stroke="#000" stroke-width="1"/>
<rect x="355.50" y="290.90" width="3.4000000000000004" height="3.4000000000000004" fill="#fff" stroke="#000" stroke-width="1"/>
<rect x="372.22" y="290.70" width="3.4000000000000004" height="3.4000000000000004" fill="#fff" stroke="#000" stroke-width="1"/>
<rect x="388.94" y="289.50" width="3.4000000000000004" height="3.4000000000000004" fill="#fff" stroke="#000" stroke-width="1"/>
<rect x="405.66" y="286.30" width="3.4000000000000004" height="3.4000000000000004" fill="#fff" stroke="#000" stroke-width="1"/>
<rect x="422.38" y="286.30" width="3.4000000000000004" height="3.4000000000000004" fill="#fff" stroke="#000" stroke-width="1"/>
<polygon points="323.76,296.5 326.56,299.3 323.76,302.1 320.96,299.3" fill="#000" stroke="#000" stroke-width="0.6"/>
<polygon points="340.47999999999996,287.4 343.28,290.2 340.47999999999996,293.0 337.67999999999995,290.2" fill="#000" stroke="#000" stroke-width="0.6"/>
<polygon points="357.2,271.8 360.0,274.6 357.2,277.40000000000003 354.4,274.6" fill="#000" stroke="#000" stroke-width="0.6"/>
<polygon points="373.91999999999996,245.89999999999998 376.71999999999997,248.7 373.91999999999996,251.5 371.11999999999995,248.7" fill="#000" stroke="#000" stroke-width="0.6"/>
<polygon points="390.64,235.0 393.44,237.8 390.64,240.60000000000002 387.84,237.8" fill="#000" stroke="#000" stroke-width="0.6"/>
<polygon points="407.35999999999996,238.2 410.15999999999997,241 407.35999999999996,243.8 404.55999999999995,241" fill="#000" stroke="#000" stroke-width="0.6"/>
<polygon points="424.08,232.2 426.88,235 424.08,237.8 421.28,235" fill="#000" stroke="#000" stroke-width="0.6"/>
<rect x="321.36" y="293.00" width="4.8" height="4.8" fill="#000"/>
<rect x="338.08" y="274.10" width="4.8" height="4.8" fill="#000"/>
<rect x="354.80" y="261.40" width="4.8" height="4.8" fill="#000"/>
<rect x="371.52" y="245.00" width="4.8" height="4.8" fill="#000"/>
<rect x="388.24" y="230.00" width="4.8" height="4.8" fill="#000"/>
<rect x="404.96" y="231.60" width="4.8" height="4.8" fill="#000"/>
<rect x="421.68" y="230.20" width="4.8" height="4.8" fill="#000"/>
<line x1="437.8" y1="230.2" x2="451.6" y2="230.2" stroke="#000" stroke-width="1.2"/>
<polygon points="444.7,227.39999999999998 447.5,230.2 444.7,233.0 441.9,230.2" fill="#000" stroke="#000" stroke-width="0.6"/>
<text x="455.8" y="233.7" text-anchor="start" font-size="10.6" font-weight="normal" >MM1R</text>
<line x1="437.8" y1="240.7" x2="451.6" y2="240.7" stroke="#000" stroke-width="1.2"/>
<rect x="442.50" y="238.50" width="4.4" height="4.4" fill="#000"/>
<text x="455.8" y="244.2" text-anchor="start" font-size="10.6" font-weight="normal" >MM1S</text>
<line x1="437.8" y1="251.4" x2="451.6" y2="251.4" stroke="#000" stroke-width="1.2"/>
<rect x="443.00" y="249.70" width="3.4000000000000004" height="3.4000000000000004" fill="#fff" stroke="#000" stroke-width="1"/>
<text x="455.8" y="254.9" text-anchor="start" font-size="10.6" font-weight="normal" >U266</text>
<line x1="437.8" y1="262.0" x2="451.6" y2="262.0" stroke="#000" stroke-width="1.2"/>
<circle cx="444.7" cy="262.0" r="1.9" fill="#fff" stroke="#000" stroke-width="1"/>
<text x="455.8" y="265.5" text-anchor="start" font-size="10.6" font-weight="normal" >CD19<tspan font-size="7.2" dy="-3.6" font-weight="bold">+</tspan><tspan dy="3.6"> B cells</tspan></text>
<line x1="437.8" y1="272.4" x2="451.6" y2="272.4" stroke="#000" stroke-width="1.2"/>
<polygon points="444.7,270.0 447.09999999999997,274.32 442.3,274.32" fill="#fff" stroke="#000" stroke-width="1"/>
<text x="455.8" y="275.9" text-anchor="start" font-size="10.6" font-weight="normal" >CD19<tspan font-size="7.2" dy="-3.6" font-weight="bold">+</tspan><tspan dy="3.6"> B cells</tspan></text>
</svg>
</body></html>
